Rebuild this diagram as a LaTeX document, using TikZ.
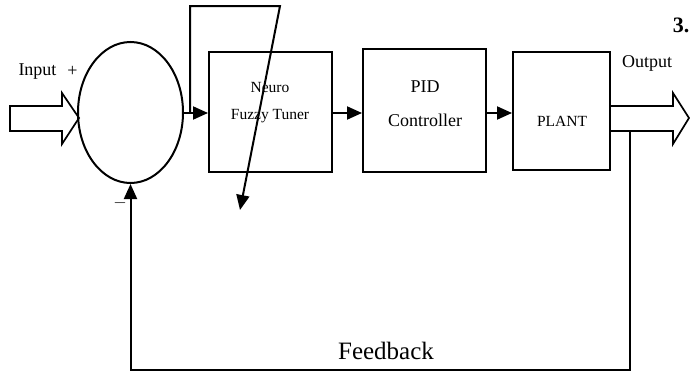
\documentclass[tikz,border=0pt]{standalone}
\usepackage{fontspec}
\setmainfont{Liberation Serif}
\usetikzlibrary{arrows.meta, shapes.geometric}

\tikzset{
  block/.style={draw, inner sep=0pt},
  lbl/.style={font=\fontsize{18}{20}\selectfont},
  smalllbl/.style={font=\fontsize{15.5}{18}\selectfont},
}

\begin{document}
\begin{tikzpicture}[x=1pt, y=-1pt, line width=2pt, >={Triangle[length=15pt,width=13pt]}]
  \useasboundingbox (0,0) rectangle (690,372);

  % Summing point
  \node[draw, ellipse, minimum width=105pt, minimum height=141pt] (sum) at (130.5,112.5) {};

  % Blocks
  \foreach \pos/\w/\h/\name in {{(270.5,112)/123/120/tuner}, {(424.5,110.5)/123/123/pid}, {(561.5,111)/97/118/plant}} {
    \node[block, minimum width=\w pt, minimum height=\h pt] (\name) at \pos {};
  }

  % Block texts
  \node[smalllbl] (neuro) at (270,87) {Neuro};
  \node[smalllbl] (fuzzy) at (270,116) {Fuzzy Tuner};
  \node[lbl] (pidtxt) at (425,87) {PID};
  \node[lbl] (ctrl) at (425,120) {Controller};
  \node[smalllbl] (planttxt) at (562,121) {PLANT};

  % Signal labels
  \node[lbl] (input) at (37.5,72) {Input};
  \node[lbl] (plus) at (72.5,71) {+};
  \node[font=\fontsize{17}{18}\selectfont] (minus) at (120,203) {$-$};
  \node[lbl] (output) at (647,63) {Output};
  \node[font=\bfseries\fontsize{22}{24}\selectfont] (num) at (681,25) {3.};
  \node[font=\fontsize{25}{28}\selectfont] (fb) at (386,351) {Feedback};

  % Block arrows for input and output
  \coordinate (intip) at (79,118);
  \coordinate (outtip) at (689,118);
  \draw[line width=1.7pt] (10,106) -- (62,106) -- (62,93) -- (intip) -- (62,144) -- (62,131) -- (10,131) -- cycle;
  \draw[line width=1.7pt] (plant.east |- 0,106) -- (673,106) -- (673,93) -- (outtip) -- (673,144) -- (673,131) -- (plant.east |- 0,131);

  % Forward path
  \coordinate (split) at (190,113);
  \coordinate (tunetop) at (280,6);
  \coordinate (tunetip) at (240,210);
  \draw (sum.east |- split) -- (split);
  \draw[->] (split) -- (tuner.west |- split);
  \draw[->] (split) |- (tunetop) -- (tunetip);
  \draw[->] (tuner.east |- split) -- (pid.west |- split);
  \draw[->] (pid.east |- split) -- (plant.west |- split);

  % Feedback path
  \coordinate (fbstart) at (630,131);
  \coordinate (fbcorner) at (630,370);
  \draw[->] (fbstart) -- (fbcorner) -| (sum.south);
\end{tikzpicture}
\end{document}
